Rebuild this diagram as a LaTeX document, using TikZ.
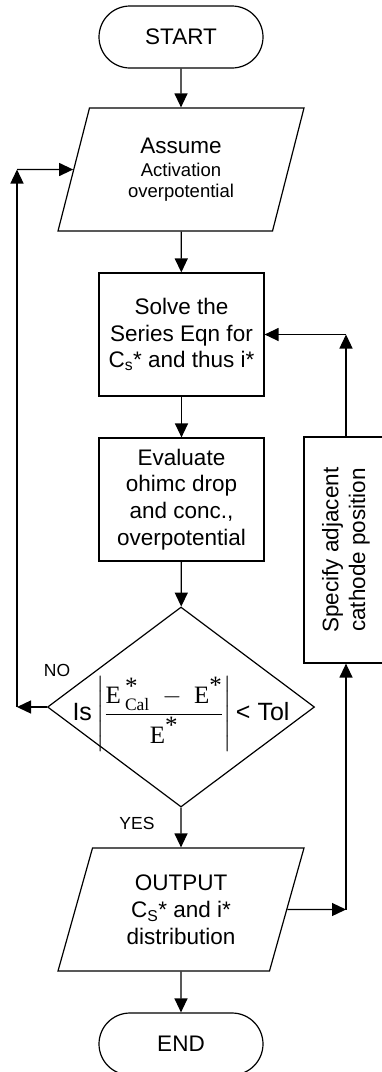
\documentclass[tikz,border=0pt]{standalone}
\usepackage{fontspec}
\usepackage{amsmath}
\setmainfont{Liberation Sans}
\newfontfamily\tnr{Liberation Serif}
\usetikzlibrary{shapes.geometric,arrows.meta}

% serif letters for the tolerance test
\newcommand\Eser{\text{\tnr E}}
\newcommand\astx{\mbox{\tnr *}}
\newcommand\smalltxt{\fontsize{18.5}{20.7}\selectfont}

\begin{document}
\begin{tikzpicture}[x=1pt,y=-1pt,
  bigtext/.style={font=\fontsize{22.5}{26.8}\selectfont},
  arr/.style={line width=1.3pt,-{Triangle[length=14pt,width=13pt]}},
  term/.style={draw,line width=1.2pt,rounded corners=31pt,minimum width=164pt,
    minimum height=62pt,inner sep=0pt,bigtext},
  procbox/.style={draw,line width=1.2pt,rectangle,minimum width=165pt,
    minimum height=123pt,inner sep=0pt,align=center,bigtext},
  iobox/.style={draw,line width=1.2pt,trapezium,trapezium left angle=63.6,
    trapezium right angle=116.4,trapezium stretches body=true,
    minimum width=246pt,minimum height=123pt,inner sep=0pt,align=center,bigtext},
  decision/.style={draw,line width=1.2pt,diamond,minimum width=267pt,
    minimum height=200pt,inner sep=0pt},
  tag/.style={font=\fontsize{17.5}{20}\selectfont}]
\useasboundingbox (0,0) rectangle (382,1072);

% main column
\node[term] (start) at (181,37) {START};
\node[iobox] (assume) at (181,169.5)
  {Assume\\[-3.5pt]{\smalltxt Activation}\\[-6pt]{\smalltxt overpotential}};
\node[procbox] (solve) at (181.5,334.5)
  {Solve the\\Series Eqn for\\C\textsubscript{s}* and thus i*};
\node[procbox] (eval) at (181.5,499.5)
  {Evaluate\\ohimc drop\\and conc.,\\overpotential};
\node[decision] (dec) at (181,707) {};
\node[font=\fontsize{25}{30}\selectfont] (test) at (181,714)
  {Is\,$\left|\dfrac{\Eser\,{}^{\astx}_{\text{\tnr Cal}}\;-\;\Eser^{\astx}}{\Eser^{\astx}}\right|$\,< Tol};
\node[iobox] (out) at (181,909.5)
  {OUTPUT\\C\textsubscript{S}* and i*\\distribution};
\node[term] (end) at (181,1044) {END};

% side loop box
\node[draw,line width=1.2pt,rectangle,minimum width=84pt,minimum height=226pt,
  label={[rotate=90,align=center,bigtext]center:Specify adjacent\\cathode position}]
  (spec) at (346,550) {};

% branch labels
\node[tag] (no) at (57,670) {NO};
\node[tag] (yes) at (137,823) {YES};

% bend points
\coordinate (cno) at (17,707);
\coordinate (ctop) at (17,169.5);
\coordinate (cout) at (346,909.5);
\coordinate (csp) at (346,334.5);

% connectors
\draw[arr] (start) -- (assume);
\draw[arr] (assume) -- (solve);
\draw[arr] (solve) -- (eval);
\draw[arr] (eval) -- (dec);
\draw[arr] (dec) -- (out);
\draw[arr] (out) -- (end);
\draw[arr] (dec.west) -- (cno);
\draw[arr] (cno) -- (ctop);
\draw[arr] (ctop) -- (assume.west);
\draw[arr] (out.east) -- (cout);
\draw[arr] (cout) -- (spec.south);
\draw[arr] (spec.north) -- (csp);
\draw[arr] (csp) -- (solve.east);
\end{tikzpicture}
\end{document}
